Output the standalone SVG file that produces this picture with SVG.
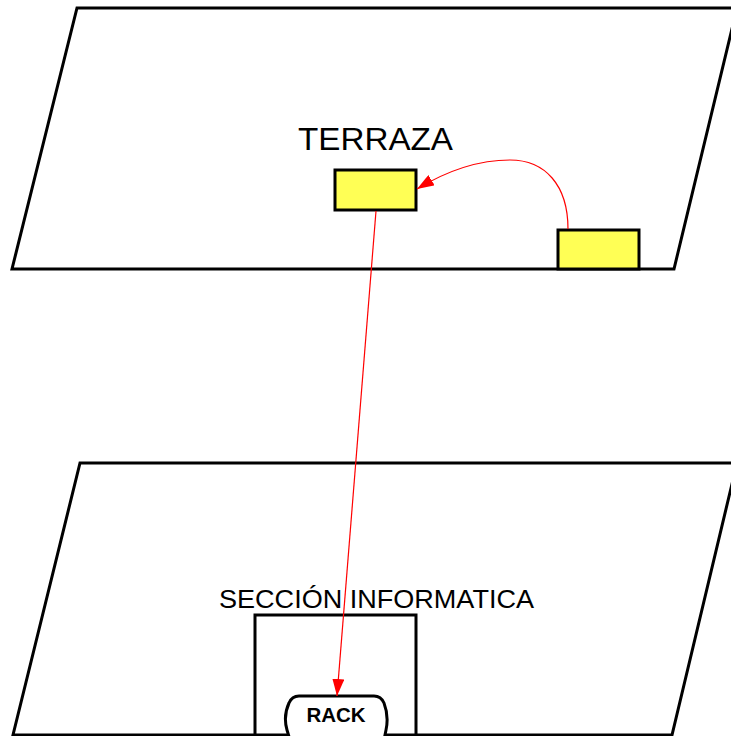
<svg xmlns="http://www.w3.org/2000/svg" width="731" height="736" viewBox="0 0 731 736">
<style>
.floor{fill:#fff;stroke:#000;stroke-width:3;stroke-linejoin:miter}
.dev{fill:#ffff55;stroke:#000;stroke-width:3}
.room{fill:none;stroke:#000;stroke-width:3}
.lbl{font-family:"Liberation Sans",Arial,sans-serif;fill:#000}
.conn{fill:none;stroke:#ff0000;stroke-width:1.2}
</style>
<defs>
<marker id="ah" markerWidth="17" markerHeight="12" refX="17" refY="6" orient="auto" markerUnits="userSpaceOnUse">
<path d="M0,0 L17,6 L0,12 Z" fill="#ff0000"/>
</marker>
</defs>
<rect width="731" height="736" fill="#fff"/>
<g id="floor-terraza">
<polygon class="floor" points="77,8 737,8 674,269 12,269"/>
<text class="lbl" x="298" y="150" font-size="31" textLength="155" lengthAdjust="spacingAndGlyphs">TERRAZA</text>
</g>
<g id="floor-seccion">
<polygon class="floor" points="80,463 737,463 672,735 13,735"/>
<text class="lbl" x="219" y="608" font-size="25" textLength="315" lengthAdjust="spacingAndGlyphs">SECCIÓN INFORMATICA</text>
</g>
<g id="room-informatica">
<polyline class="room" points="255,737 255,615 416,615 416,737"/>
</g>
<g id="device-a">
<rect class="dev" x="335" y="170" width="81" height="40"/>
</g>
<g id="device-b">
<rect class="dev" x="558" y="230" width="81" height="39"/>
</g>
<g id="rack">
<path d="M299,696 L374,696 Q381,696 384,703 Q389,716 386,730 L384,740 L290,740 L287,730 Q283,716 289,703 Q292,696 299,696 Z" fill="#fff" stroke="#000" stroke-width="3"/>
<text class="lbl" x="336" y="722" font-size="20.5" font-weight="bold" text-anchor="middle">RACK</text>
</g>
<g id="connectors">
<path class="conn" d="M568,229 C568,185 545,160 510,160 C478,160 445,172 417,189" marker-end="url(#ah)"/>
<line class="conn" x1="376" y1="211" x2="337" y2="696" marker-end="url(#ah)"/>
</g>
</svg>
